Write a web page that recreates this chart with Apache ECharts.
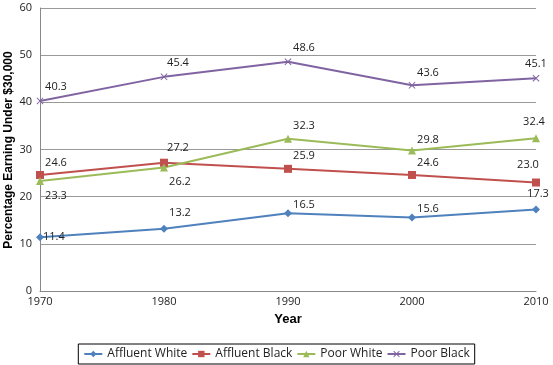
<!DOCTYPE html>
<html>
<head>
<meta charset="utf-8">
<script src="https://cdn.jsdelivr.net/npm/echarts@6/dist/echarts.min.js"></script>
<style>
  html, body { margin: 0; padding: 0; background: #fff; }
  #chart { width: 553px; height: 365px; }
</style>
</head>
<body>
<div id="chart"></div>
<script>
const years = ['1970', '1980', '1990', '2000', '2010'];
const affluentWhite = [11.4, 13.2, 16.5, 15.6, 17.3];
const affluentBlack = [24.6, 27.2, 25.9, 24.6, 23.0];
const poorWhite = [23.3, 26.2, 32.3, 29.8, 32.4];
const poorBlack = [40.3, 45.4, 48.6, 43.6, 45.1];
const yTitle = 'Percentage Earning Under $30,000';

const xMark = 'path://M0,1L1,0L5,4L9,0L10,1L6,5L10,9L9,10L5,6L1,10L0,9L4,5Z';

// label above-right of the point, like the Excel default here
function lbl(pos, off) {
    return {
        show: true, position: pos, offset: off,
        fontSize: 11, color: '#222', fontFamily: 'Open Sans',
        formatter: p => p.value.toFixed(1)
    };
}

function withLabels(values, pos, offs) {
    return values.map((v, i) => ({ value: v, label: lbl(pos[i], offs[i]) }));
}

const myChart = echarts.init(document.getElementById('chart'));
const option = {
    animation: false,
    grid: { left: 40, right: 17, top: 8, bottom: 74, outerBoundsMode: 'none', containLabel: false },
    // y axis title drawn by hand, the axis name kept getting pushed off the edge
    graphic: [{
        type: 'text', x: 9, y: 150, rotation: Math.PI / 2,
        style: {
            text: yTitle, fill: '#000', align: 'center', verticalAlign: 'middle',
            font: 'bold 12px "Liberation Sans"'
        }
    }],
    xAxis: {
        type: 'category', data: years, boundaryGap: false,
        name: 'Year', nameLocation: 'middle', nameGap: 22,
        nameTextStyle: { fontWeight: 'bold', fontSize: 13, color: '#000', fontFamily: 'Liberation Sans' },
        axisLine: { lineStyle: { color: '#888' } },
        axisTick: { show: false },
        axisLabel: { color: '#222', fontSize: 11, fontFamily: 'Open Sans', margin: 5 }
    },
    yAxis: {
        type: 'value', min: 0, max: 60, interval: 10,
        axisLine: { show: true, lineStyle: { color: '#888' } },
        axisTick: { show: false },
        splitLine: { lineStyle: { color: '#999' } },
        axisLabel: { color: '#222', fontSize: 11, fontFamily: 'Open Sans', margin: 8 }
    },
    legend: {
        bottom: 1, left: 'center',
        borderColor: '#000', borderWidth: 1, padding: [4, 5],
        itemWidth: 18, itemHeight: 8, itemGap: 4,
        textStyle: { fontSize: 12, color: '#222', fontFamily: 'Open Sans' }
    },
    series: [
        {
            name: 'Affluent White', type: 'line', symbol: 'diamond', symbolSize: 8,
            color: '#4F81BD', lineStyle: { width: 2 },
            data: withLabels(affluentWhite, ['right', 'top', 'top', 'top', 'top'],
                [[-6, 0], [16, -1], [16, 6], [16, 6], [2, -1]])
        },
        {
            name: 'Affluent Black', type: 'line', symbol: 'rect', symbolSize: 8,
            color: '#C0504D', lineStyle: { width: 2 },
            data: withLabels(affluentBlack, ['top', 'top', 'top', 'top', 'top'],
                [[16, 2], [14, 0], [16, 2], [16, 2], [-8, -3]])
        },
        {
            name: 'Poor White', type: 'line', symbol: 'triangle', symbolSize: 8,
            color: '#9BBB59', lineStyle: { width: 2 },
            data: withLabels(poorWhite, ['bottom', 'bottom', 'top', 'top', 'top'],
                [[16, 0], [16, 0], [16, 2], [16, 4], [-2, -2]])
        },
        {
            name: 'Poor Black', type: 'line', symbol: xMark, symbolSize: 7,
            color: '#8064A2', lineStyle: { width: 2 },
            data: withLabels(poorBlack, ['top', 'top', 'top', 'top', 'top'],
                [[16, 0], [14, 0], [16, 0], [16, 2], [0, 0]])
        }
    ]
};
myChart.setOption(option);
</script>
</body>
</html>
